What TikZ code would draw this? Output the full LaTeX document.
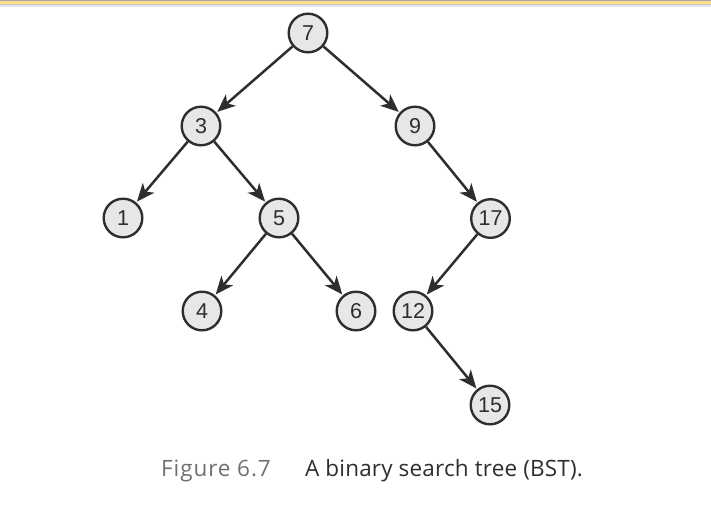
\documentclass[tikz,border=0pt]{standalone}
\usepackage{fontspec}
\setmainfont{Open Sans}
\newfontfamily\digitfont{Liberation Sans}
\usetikzlibrary{arrows.meta}
\definecolor{nodefill}{HTML}{E6E7E9}
\definecolor{ink}{HTML}{2E2E2E}
\definecolor{bandyellow}{HTML}{FCE08C}
\definecolor{capgray}{HTML}{707070}
\begin{document}
\begin{tikzpicture}[x=1pt,y=-1pt,
  bstnode/.style={circle,draw=ink,fill=nodefill,line width=2.4pt,minimum size=38.6pt,inner sep=0pt,
    font=\digitfont\fontsize{21.5}{21.5}\selectfont,text=ink},
  edge/.style={draw=ink,line width=2.5pt,-{Stealth[length=18pt,width=15pt,inset=5pt]},shorten >=1pt}]
\useasboundingbox (0,0) rectangle (711,523);
% top band
\fill[gray!70] (0,0) rectangle (711,1.2);
\fill[bandyellow] (0,1.2) rectangle (711,4);
\fill[gray!45] (0,4) rectangle (711,5);
\fill[gray!20] (0,5) rectangle (711,6.5);
% nodes
\node[bstnode] (n7) at (308,33) {7};
\node[bstnode] (n3) at (201,126) {3};
\node[bstnode] (n9) at (415,126) {9};
\node[bstnode] (n1) at (123,218) {1};
\node[bstnode] (n5) at (279,218) {5};
\node[bstnode] (n17) at (490.5,218.5) {17};
\node[bstnode] (n4) at (202,311) {4};
\node[bstnode] (n6) at (356,311) {6};
\node[bstnode] (n12) at (413,311) {12};
\node[bstnode] (n15) at (490,405) {15};
% edges
\draw[edge] (n7) -- (n3);
\draw[edge] (n7) -- (n9);
\draw[edge] (n3) -- (n1);
\draw[edge] (n3) -- (n5);
\draw[edge] (n9) -- (n17);
\draw[edge] (n5) -- (n4);
\draw[edge] (n5) -- (n6);
\draw[edge] (n17) -- (n12);
\draw[edge] (n12) -- (n15);
% caption
\node[anchor=base west,inner sep=0pt,font=\fontsize{22.5}{26}\selectfont,text=capgray] (fig) at (161,476) {\addfontfeatures{LetterSpace=4}Figure 6.7};
\node[anchor=base west,inner sep=0pt,font=\fontsize{22.5}{26}\selectfont,text=ink] (cap) at (305,476) {\addfontfeatures{LetterSpace=0.8}A binary search tree (BST).};
\end{tikzpicture}
\end{document}
